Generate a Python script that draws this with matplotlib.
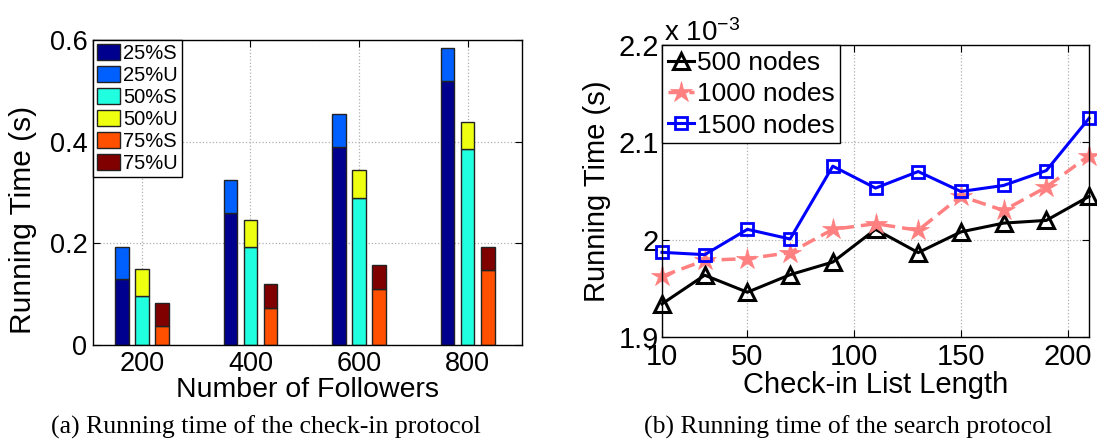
import matplotlib
matplotlib.use("Agg")
import matplotlib.pyplot as plt
import numpy as np
from matplotlib.ticker import FuncFormatter, FixedLocator

plt.rcParams['font.family'] = ['Liberation Sans', 'DejaVu Sans']
plt.rcParams['mathtext.fontset'] = 'custom'
plt.rcParams['mathtext.rm'] = 'Liberation Sans'
plt.rcParams['mathtext.it'] = 'Liberation Sans'

# ---------------- data (a) ----------------
followers = [200, 400, 600, 800]
s25 = [0.129, 0.260, 0.390, 0.520]
u25 = [0.064, 0.0645, 0.0645, 0.0645]
s50 = [0.0966, 0.1925, 0.2897, 0.386]
u50 = [0.0524, 0.0535, 0.0538, 0.053]
s75 = [0.037, 0.0736, 0.111, 0.1478]
u75 = [0.046, 0.0459, 0.0466, 0.0459]
bar_labels = ['25%S', '25%U', '50%S', '50%U', '75%S', '75%U']
bar_colors = ['#00008F', '#0060FF', '#20FFDF', '#EFFF10', '#FF5000', '#800000']

# ---------------- data (b) ----------------
list_len = [10, 30, 50, 70, 90, 110, 130, 150, 170, 190, 210]
n500 = [1.934, 1.9635, 1.946, 1.964, 1.977, 2.0106, 1.9867, 2.008, 2.017, 2.0198, 2.0444]
n1000 = [1.9624, 1.9788, 1.9805, 1.9867, 2.0106, 2.0164, 2.0096, 2.0447, 2.030, 2.054, 2.0864]
n1500 = [1.987, 1.9846, 2.0106, 2.0007, 2.0755, 2.053, 2.070, 2.0495, 2.0557, 2.071, 2.1246]
line_labels = ['500 nodes', '1000 nodes', '1500 nodes']

W, H = 1097, 442
fig = plt.figure(figsize=(W / 100, H / 100), dpi=100)

fmt = FuncFormatter(lambda v, p: '%g' % round(v, 6))
grid_kw = dict(color='#b0b0b0', linestyle=':', linewidth=0.9)

def style_axes(ax, fs):
    ax.tick_params(direction='in', top=True, right=True, length=5, width=0.8,
                   labelsize=fs, pad=4)
    for s in ax.spines.values():
        s.set_linewidth(1.0)
        s.set_color('black')
    ax.grid(True, **grid_kw)
    ax.set_axisbelow(True)

# ---------------- panel (a) ----------------
ax1 = fig.add_axes([93 / W, 1 - 345 / H, 429 / W, 305 / H])
x = np.array(followers, dtype=float)
off = 37
bw = 25
groups = [(s25, u25, -off), (s50, u50, 0), (s75, u75, off)]
handles = []
for i, (s, u, o) in enumerate(groups):
    hs = ax1.bar(x + o, s, width=bw, color=bar_colors[2 * i], edgecolor='#222222', linewidth=1.0)
    hu = ax1.bar(x + o, u, width=bw, bottom=s, color=bar_colors[2 * i + 1], edgecolor='#222222', linewidth=1.0)
    handles += [hs, hu]
ax1.set_xlim(110, 900)
ax1.set_ylim(0, 0.6)
ax1.xaxis.set_major_locator(FixedLocator(followers))
ax1.yaxis.set_major_locator(FixedLocator([0, 0.2, 0.4, 0.6]))
ax1.yaxis.set_major_formatter(fmt)
style_axes(ax1, 19.5)
ax1.set_xlabel('Number of Followers', fontsize=20.5, labelpad=0)
ax1.set_ylabel('Running Time (s)', fontsize=21.5)
ax1.yaxis.set_label_coords(-0.13, 0.41)
leg1 = ax1.legend(handles, bar_labels, loc='upper left', bbox_to_anchor=(0, 1),
                  borderaxespad=0, fontsize=14.5, fancybox=False, framealpha=1,
                  edgecolor='black', handlelength=1.15, handleheight=0.85,
                  handletextpad=0.15, labelspacing=0.15, borderpad=0.2)
leg1.get_frame().set_linewidth(1.0)

# ---------------- panel (b) ----------------
ax2 = fig.add_axes([662 / W, 1 - 337 / H, 427 / W, 292 / H])
ax2.plot(list_len, n500, color='black', lw=2.2, marker='^', markersize=11,
         markerfacecolor='none', markeredgewidth=2.2, clip_on=False, label=line_labels[0])
ax2.plot(list_len, n1000, color='#FF8080', lw=2.5, linestyle=(0, (4, 2)), marker='*',
         markersize=16, markeredgewidth=0.5, clip_on=False, label=line_labels[1])
ax2.plot(list_len, n1500, color='#0000FF', lw=2.2, marker='s', markersize=8,
         markerfacecolor='none', markeredgewidth=2.0, clip_on=False, label=line_labels[2])
ax2.set_xlim(10, 210)
ax2.set_ylim(1.9, 2.2)
ax2.xaxis.set_major_locator(FixedLocator([10, 50, 100, 150, 200]))
ax2.yaxis.set_major_locator(FixedLocator([1.9, 2.0, 2.1, 2.2]))
ax2.yaxis.set_major_formatter(fmt)
style_axes(ax2, 21)
ax2.tick_params(axis='y', pad=2)
ax2.set_xlabel('Check-in List Length', fontsize=21, labelpad=0)
ax2.set_ylabel('Running Time (s)', fontsize=21)
ax2.yaxis.set_label_coords(-0.12, 0.5)
ax2.text(0.005, 1.015, r'x 10$^{-3}$', transform=ax2.transAxes, fontsize=20,
         ha='left', va='baseline')
leg2 = ax2.legend(loc='upper left', bbox_to_anchor=(0, 1), borderaxespad=0,
                  fontsize=19, fancybox=False, framealpha=1, edgecolor='black',
                  handlelength=1.0, handletextpad=0.1, labelspacing=0.28, borderpad=0.22)
leg2.get_frame().set_linewidth(1.0)

# ---------------- captions ----------------
fig.text(266 / W, 1 - 427 / H, '(a) Running time of the check-in protocol',
         ha='center', va='center', fontsize=18.5, family='Liberation Serif')
fig.text(848 / W, 1 - 427 / H, '(b) Running time of the search protocol',
         ha='center', va='center', fontsize=18.5, family='Liberation Serif')

fig.savefig('out.png', dpi=100)
